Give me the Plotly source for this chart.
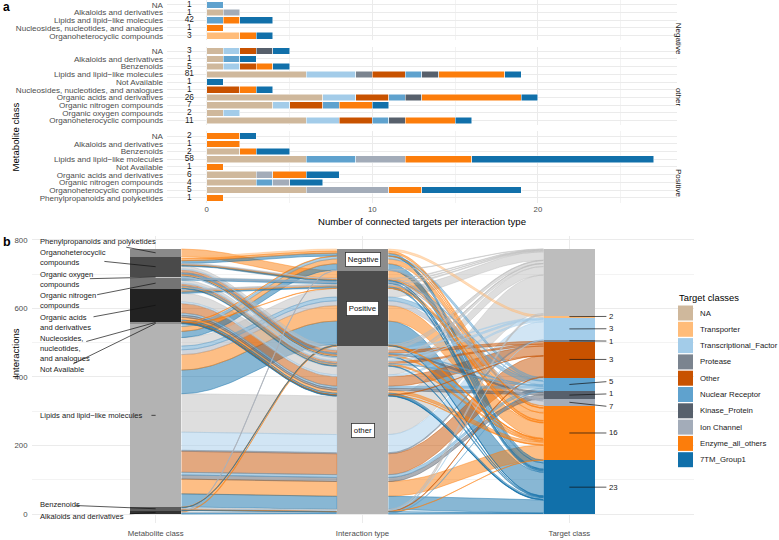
import numpy as np
import plotly.graph_objects as go

W, H = 779, 540

# ================= Panel a data =================
target_classes = ["NA", "Transporter", "Transcriptional_Factor", "Protease", "Other",
                  "Nuclear Receptor", "Kinase_Protein", "Ion Channel",
                  "Enzyme_all_others", "7TM_Group1"]
target_colors = ["#cfb89c", "#ffbc79", "#a3cce9", "#7b848f", "#c85200",
                 "#5fa2ce", "#57606c", "#a3acb9", "#fc7d0b", "#1170aa"]

facet_names = ["Negative", "other", "Positive"]

neg_rows = ["NA", "Alkaloids and derivatives", "Lipids and lipid−like molecules",
            "Nucleosides, nucleotides, and analogues", "Organoheterocyclic compounds"]
neg_counts = [1, 1, 42, 1, 3]
neg_targets = [  # columns follow target_classes
    [0, 0, 0, 0, 0, 1, 0, 0, 0, 0],
    [1, 0, 0, 0, 0, 0, 0, 1, 0, 0],
    [0, 0, 0, 0, 0, 1, 0, 0, 1, 2],
    [0, 0, 0, 0, 0, 0, 0, 0, 1, 0],
    [0, 2, 0, 0, 0, 0, 0, 0, 1, 1],
]

other_rows = ["NA", "Alkaloids and derivatives", "Benzenoids", "Lipids and lipid−like molecules",
              "Not Available", "Nucleosides, nucleotides, and analogues",
              "Organic acids and derivatives", "Organic nitrogen compounds",
              "Organic oxygen compounds", "Organoheterocyclic compounds"]
other_counts = [3, 1, 5, 81, 1, 1, 26, 7, 2, 11]
other_targets = [
    [1, 0, 1, 0, 1, 0, 1, 0, 0, 1],
    [1, 0, 0, 0, 0, 1, 0, 0, 0, 1],
    [1, 0, 1, 0, 1, 0, 0, 0, 1, 1],
    [6, 0, 3, 1, 2, 1, 1, 0, 4, 1],
    [0, 0, 0, 0, 0, 0, 0, 0, 0, 1],
    [0, 0, 0, 0, 2, 0, 0, 0, 1, 1],
    [7, 0, 2, 0, 2, 1, 1, 0, 6, 1],
    [4, 0, 1, 0, 2, 1, 0, 0, 2, 1],
    [1, 0, 1, 0, 0, 0, 0, 0, 0, 0],
    [6, 0, 2, 0, 2, 1, 1, 0, 3, 1],
]

pos_rows = ["NA", "Alkaloids and derivatives", "Benzenoids", "Lipids and lipid−like molecules",
            "Not Available", "Organic acids and derivatives", "Organic nitrogen compounds",
            "Organoheterocyclic compounds", "Phenylpropanoids and polyketides"]
pos_counts = [2, 1, 2, 58, 1, 6, 4, 5, 1]
pos_targets = [
    [0, 0, 0, 0, 0, 0, 0, 0, 2, 1],
    [0, 0, 0, 0, 0, 0, 0, 0, 2, 0],
    [2, 0, 0, 0, 0, 0, 0, 0, 1, 2],
    [6, 0, 0, 0, 0, 3, 0, 3, 4, 11],
    [0, 0, 0, 0, 0, 0, 0, 0, 1, 0],
    [3, 0, 0, 0, 0, 0, 0, 1, 2, 2],
    [3, 0, 0, 0, 0, 1, 0, 1, 0, 2],
    [6, 0, 0, 0, 0, 0, 0, 5, 2, 6],
    [0, 0, 0, 0, 0, 0, 0, 0, 1, 0],
]

# ================= Panel b data =================
metabolite_levels = ["Alk", "Benz", "Lip", "NotAv", "Nuc", "OA", "ON", "OO", "OH", "Phen"]  # bottom -> top
metabolite_labels = ["Alkaloids and derivatives", "Benzenoids", "Lipids and lipid−like molecules",
                     "Not Available", "Nucleosides,<br>nucleotides,<br>and analogues",
                     "Organic acids<br>and derivatives", "Organic nitrogen<br>compounds",
                     "Organic oxygen<br>compounds", "Organoheterocyclic<br>compounds",
                     "Phenylpropanoids and polyketides"]
metabolite_fill = ["#333333", "#5c5c5c", "#b3b3b3", "#6a6a6a", "#8f8f8f",
                   "#222222", "#747474", "#c4c4c4", "#4a4a4a", "#8a8a8a"]
interaction_levels = ["other", "Positive", "Negative"]  # bottom -> top
interaction_fill = ["#b5b5b5", "#4d4d4d", "#8c8c8c"]
target_levels = ["7TM_Group1", "Enzyme_all_others", "Ion Channel", "Kinase_Protein",
                 "Nuclear Receptor", "Other", "Protease", "Transcriptional_Factor",
                 "Transporter", "NA"]  # bottom -> top
target_label_n = ["23", "16", "7", "1", "5", "3", "1", "3", "2", ""]

alluvium_metabolite = [
    "Alk", "Alk", "Lip", "Lip", "Lip", "Nuc", "OH", "OH", "OH",
    "Alk", "Benz", "Benz", "Benz", "Lip", "Lip", "Lip", "Lip", "Lip", "NotAv",
    "OA", "OA", "OA", "OA", "ON", "ON", "ON", "ON", "OH", "OH", "OH", "OH", "Phen",
    "Alk", "Alk", "Alk", "Benz", "Benz", "Benz", "Benz", "Benz",
    "Lip", "Lip", "Lip", "Lip", "Lip", "Lip", "Lip", "Lip", "NotAv", "Nuc", "Nuc", "Nuc",
    "OA", "OA", "OA", "OA", "OA", "OA", "OA",
    "ON", "ON", "ON", "ON", "ON", "ON", "OO", "OO",
    "OH", "OH", "OH", "OH", "OH", "OH", "OH",
]
alluvium_interaction = (["Negative"] * 9 + ["Positive"] * 23 + ["other"] * 43)
alluvium_target = [
    "NA", "Ion Channel", "Nuclear Receptor", "Enzyme_all_others", "7TM_Group1",
    "Enzyme_all_others", "Transporter", "Enzyme_all_others", "7TM_Group1",
    "Enzyme_all_others", "NA", "Enzyme_all_others", "7TM_Group1",
    "NA", "Nuclear Receptor", "Ion Channel", "Enzyme_all_others", "7TM_Group1",
    "Enzyme_all_others",
    "NA", "Ion Channel", "Enzyme_all_others", "7TM_Group1",
    "NA", "Nuclear Receptor", "Ion Channel", "7TM_Group1",
    "NA", "Ion Channel", "Enzyme_all_others", "7TM_Group1", "Enzyme_all_others",
    "NA", "Nuclear Receptor", "7TM_Group1",
    "NA", "Transcriptional_Factor", "Other", "Enzyme_all_others", "7TM_Group1",
    "7TM_Group1", "Enzyme_all_others", "Kinase_Protein", "Nuclear Receptor", "Other",
    "Protease", "Transcriptional_Factor", "NA",
    "7TM_Group1", "Other", "Enzyme_all_others", "7TM_Group1",
    "NA", "Transcriptional_Factor", "Other", "Nuclear Receptor", "Kinase_Protein",
    "Enzyme_all_others", "7TM_Group1",
    "NA", "Transcriptional_Factor", "Other", "Nuclear Receptor", "Enzyme_all_others", "7TM_Group1",
    "NA", "Transcriptional_Factor",
    "NA", "Transcriptional_Factor", "Other", "Nuclear Receptor", "Kinase_Protein",
    "Enzyme_all_others", "7TM_Group1",
]
alluvium_count = [
    1, 1, 8, 14, 18, 1, 6, 6, 8,
    2, 1, 1, 1, 25, 11, 14, 45, 69, 1,
    3, 2, 4, 4, 2, 2, 1, 3, 2, 2, 2, 2, 22,
    3, 1, 2, 3, 1, 2, 1, 1,
    38, 43, 12, 8, 61, 3, 53, 112, 1, 1, 1, 1,
    25, 5, 28, 6, 6, 8, 5,
    8, 3, 6, 2, 4, 2, 1, 1,
    8, 3, 8, 2, 4, 4, 2,
]


def rgba(h, a):
    h = h.lstrip("#")
    return "rgba(%d,%d,%d,%.3f)" % (int(h[0:2], 16), int(h[2:4], 16), int(h[4:6], 16), a)


FONT = "Liberation Sans, Arial, sans-serif"
fig = go.Figure()

# ---------------- panel a geometry (pixels) ----------------
ROW_PX = 7.72
GAP_PX = 6.2
facets = [(neg_rows, neg_counts, neg_targets), (other_rows, other_counts, other_targets),
          (pos_rows, pos_counts, pos_targets)]
top = 0.2
facet_dom = []
for rows, _, _ in facets:
    h = (len(rows) + 0.2) * ROW_PX
    facet_dom.append((top, top + h))
    top += h + GAP_PX

XA_RANGE = [-2.4, 28.42]
XA_PX = (167.0, 677.3)

for f, (rows, counts, targets) in enumerate(facets):
    ax = "" if f == 0 else str(f + 1)
    for j, cls in enumerate(target_classes):
        vals = [r[j] if r[j] > 0 else None for r in targets]
        if all(v is None for v in vals):
            continue
        fig.add_trace(go.Bar(orientation="h", y=list(range(len(rows))), x=vals,
                             marker=dict(color=target_colors[j], line=dict(color="white", width=0.5)),
                             width=0.86, xaxis="x" + ax, yaxis="y" + ax, showlegend=False,
                             hoverinfo="skip"))
    fig.add_trace(go.Scatter(mode="text", x=[-1.05] * len(rows), y=list(range(len(rows))),
                             text=[str(c) for c in counts],
                             textfont=dict(size=8.3, color="#1a1a1a", family=FONT),
                             xaxis="x" + ax, yaxis="y" + ax, showlegend=False, hoverinfo="skip"))

# ---------------- panel b computations ----------------
N = len(alluvium_count)
w = np.array(alluvium_count, dtype=float)
idx = [(metabolite_levels.index(alluvium_metabolite[k]),
        interaction_levels.index(alluvium_interaction[k]),
        target_levels.index(alluvium_target[k])) for k in range(N)]
priority = [(0, 1, 2), (1, 0, 2), (2, 1, 0)]
lodes = []
for a in range(3):
    order = sorted(range(N), key=lambda k: tuple(idx[k][p] for p in priority[a]))
    y = 0.0
    lo = [None] * N
    for k in order:
        lo[k] = (y, y + w[k])
        y += w[k]
    lodes.append(lo)

tclr = {c: col for c, col in zip(target_classes, target_colors)}
tclr["NA"] = "#bdbdbd"
target_fill = [tclr[t] for t in target_levels]

SW = 0.25
tt = np.linspace(0, 1, 40)
ss = (1 - np.cos(np.pi * tt)) / 2
for a in (0, 1):
    x0, x1 = a + 1 + SW / 2, a + 2 - SW / 2
    xs = x0 + (x1 - x0) * tt
    for k in sorted(range(N), key=lambda k: -w[k]):
        ya0, ya1 = lodes[a][k]
        yb0, yb1 = lodes[a + 1][k]
        topc = ya1 + (yb1 - ya1) * ss
        botc = ya0 + (yb0 - ya0) * ss
        col = tclr[alluvium_target[k]]
        fig.add_trace(go.Scatter(x=np.concatenate([xs, xs[::-1]]),
                                 y=np.concatenate([topc, botc[::-1]]),
                                 fill="toself", fillcolor=rgba(col, 0.5), mode="lines",
                                 line=dict(color=rgba(col, 0.75), width=0.6),
                                 xaxis="x4", yaxis="y4", showlegend=False, hoverinfo="skip"))

axis_levels = [metabolite_levels, interaction_levels, target_levels]
axis_fills = [metabolite_fill, interaction_fill, target_fill]
strata_bounds = []
for a in range(3):
    tot = np.array([sum(w[k] for k in range(N) if idx[k][a] == l) for l in range(len(axis_levels[a]))])
    base = np.cumsum(tot) - tot
    strata_bounds.append((base, tot))
    keep = tot > 0
    fig.add_trace(go.Bar(x=[a + 1] * int(keep.sum()), y=tot[keep], base=base[keep], width=SW,
                         marker=dict(color=[c for c, kk in zip(axis_fills[a], keep) if kk],
                                     line=dict(width=0)),
                         xaxis="x4", yaxis="y4", showlegend=False, hoverinfo="skip"))

# pixel mapping for panel b
XB_RANGE = [0.4, 3.6]
XB_PX = (31.5, 693.5)
YB_RANGE = [-26, 811]
YB_PX = (236.0, 523.0)
ppx = (XB_PX[1] - XB_PX[0]) / (XB_RANGE[1] - XB_RANGE[0])
ppy = (YB_PX[1] - YB_PX[0]) / (YB_RANGE[1] - YB_RANGE[0])


def bx(xd):
    return XB_PX[0] + (xd - XB_RANGE[0]) * ppx


def by(yd):
    return YB_PX[1] - (yd - YB_RANGE[0]) * ppy


def ibx(px):
    return XB_RANGE[0] + (px - XB_PX[0]) / ppx


def iby(py):
    return YB_RANGE[0] + (YB_PX[1] - py) / ppy


def repel(centers, heights, gap, lo, hi):
    """1-D label repel (isotonic least squares) kept inside [lo, hi] pixels."""
    centers = np.asarray(centers, float)
    heights = np.asarray(heights, float)
    order = np.argsort(centers)
    c = centers[order]
    h = heights[order]
    offs = [0.0]
    for k in range(1, len(c)):
        offs.append(offs[-1] + (h[k - 1] + h[k]) / 2 + gap)
    offs = np.array(offs)
    z = c - offs
    blocks = []
    for v in z:
        blocks.append([v, 1])
        while len(blocks) > 1 and blocks[-2][0] > blocks[-1][0]:
            v2, n2 = blocks.pop()
            v1, n1 = blocks.pop()
            blocks.append([(v1 * n1 + v2 * n2) / (n1 + n2), n1 + n2])
    q = []
    for v, n in blocks:
        q += [v] * n
    q = np.array(q)
    q = np.maximum(q, lo + h[0] / 2)
    q = np.minimum(q, hi - h[-1] / 2 - offs[-1])
    p = q + offs
    out = np.empty_like(p)
    out[order] = p
    return out


annotations = []
LINE_PX = 9.7
CHAR_PX = 3.62

# metabolite labels
mb, mt = strata_bounds[0]
mcent_px = [by(b + t / 2) for b, t in zip(mb, mt)]
m_lines = [lab.split("<br>") for lab in metabolite_labels]
m_h = [len(l) * LINE_PX for l in m_lines]
m_pos = repel(mcent_px, m_h, 2.0, YB_PX[0] + 0.5, YB_PX[1] + 1)
lab_left_px = bx(0.43)
for i, lab in enumerate(metabolite_labels):
    annotations.append(dict(x=ibx(lab_left_px), y=iby(m_pos[i]), xref="x4", yref="y4", text=lab,
                            showarrow=False, xanchor="left", yanchor="middle", align="left",
                            font=dict(size=7.6, color="#1a1a1a", family=FONT)))
    wpx = max(len(s) for s in m_lines[i]) * CHAR_PX
    cx, cy = lab_left_px + wpx / 2, m_pos[i]
    tx, ty = bx(1.0), mcent_px[i]
    dx, dy = tx - cx, ty - cy
    tx_ = (wpx / 2 + 1.5) / abs(dx) if dx != 0 else np.inf
    ty_ = (m_h[i] / 2 + 1.0) / abs(dy) if dy != 0 else np.inf
    te = min(tx_, ty_)
    if te < 1:
        sx, sy = cx + te * dx, cy + te * dy
        fig.add_trace(go.Scatter(x=[ibx(sx), ibx(tx)], y=[iby(sy), iby(ty)], mode="lines",
                                 line=dict(color="#111111", width=0.7), xaxis="x4", yaxis="y4",
                                 showlegend=False, hoverinfo="skip", cliponaxis=False))

# target labels
tb, tt_ = strata_bounds[2]
t_items = [i for i, s in enumerate(target_label_n) if s]
t_cent_px = [by(tb[i] + tt_[i] / 2) for i in t_items]
t_pos = repel(t_cent_px, [LINE_PX] * len(t_items), 2.6, YB_PX[0], YB_PX[1])
for n_, i in enumerate(t_items):
    fig.add_trace(go.Scatter(x=[3.0, ibx(bx(3.0) + 37)], y=[iby(t_cent_px[n_]), iby(t_pos[n_])],
                             mode="lines", line=dict(color="#111111", width=0.7),
                             xaxis="x4", yaxis="y4", showlegend=False, hoverinfo="skip"))
    annotations.append(dict(x=ibx(bx(3.0) + 38), y=iby(t_pos[n_]), xref="x4", yref="y4",
                            text=target_label_n[i], showarrow=False, xanchor="left",
                            yanchor="middle", font=dict(size=7.8, color="#1a1a1a", family=FONT)))

# interaction labels
ib_, it_ = strata_bounds[1]
for i, lev in enumerate(interaction_levels):
    annotations.append(dict(x=2, y=ib_[i] + it_[i] / 2, xref="x4", yref="y4", text=lev,
                            showarrow=False, bgcolor="white", bordercolor="#333333",
                            borderwidth=0.8, borderpad=2,
                            font=dict(size=7.8, color="#111111", family=FONT)))


def pxx(p):
    return p / W


def pxy(p):
    return 1 - p / H


# facet strip labels
for f, name in enumerate(facet_names):
    d0, d1 = facet_dom[f]
    annotations.append(dict(x=pxx(685), y=pxy((d0 + d1) / 2), xref="paper", yref="paper",
                            text=name, textangle=90, showarrow=False,
                            font=dict(size=8, color="#1a1a1a", family=FONT)))

# titles / tags
annotations += [
    dict(x=pxx(1), y=pxy(7.5), xref="paper", yref="paper", text="<b>a</b>", showarrow=False,
         xanchor="left", yanchor="middle", font=dict(size=12, color="black", family=FONT)),
    dict(x=pxx(1), y=pxy(242), xref="paper", yref="paper", text="<b>b</b>", showarrow=False,
         xanchor="left", yanchor="middle", font=dict(size=12.5, color="black", family=FONT)),
    dict(x=pxx(7.5), y=pxy(101), xref="paper", yref="paper", text="Metabolite class",
         textangle=-90, showarrow=False, font=dict(size=9.6, color="black", family=FONT)),
    dict(x=pxx(422), y=pxy(221.5), xref="paper", yref="paper",
         text="Number of connected targets per interaction type", showarrow=False,
         font=dict(size=9.6, color="black", family=FONT)),
    dict(x=pxx(7.5), y=pxy(380), xref="paper", yref="paper", text="Interactions",
         textangle=-90, showarrow=False, font=dict(size=9.6, color="black", family=FONT)),
    dict(x=pxx(677), y=pxy(297), xref="paper", yref="paper", text="Target classes",
         showarrow=False, xanchor="left", yanchor="middle",
         font=dict(size=9.4, color="black", family=FONT)),
]

# legend (manual)
shapes = []
LEG_Y0 = 313.0
LEG_STEP = 16.3
for j, cls in enumerate(target_classes):
    cy = LEG_Y0 + j * LEG_STEP
    shapes.append(dict(type="rect", xref="paper", yref="paper", x0=pxx(678), x1=pxx(693),
                       y0=pxy(cy - 7.5), y1=pxy(cy + 7.5), fillcolor=target_colors[j],
                       line=dict(width=0), layer="above"))
    annotations.append(dict(x=pxx(698), y=pxy(cy), xref="paper", yref="paper", text=cls,
                            showarrow=False, xanchor="left", yanchor="middle",
                            font=dict(size=7.8, color="#1a1a1a", family=FONT)))

layout = dict(
    width=W, height=H, margin=dict(l=0, r=0, t=0, b=0),
    paper_bgcolor="white", plot_bgcolor="white", barmode="stack", showlegend=False,
    font=dict(family=FONT, color="#4d4d4d"),
    annotations=annotations, shapes=shapes,
)
GRID = "#ebebeb"
for f, (rows, _, _) in enumerate(facets):
    ax = "" if f == 0 else str(f + 1)
    d0, d1 = facet_dom[f]
    n = len(rows)
    layout["xaxis" + ax] = dict(domain=[pxx(XA_PX[0]), pxx(XA_PX[1])], range=XA_RANGE,
                                anchor="y" + ax, tickmode="array", tickvals=[0, 10, 20],
                                showticklabels=(f == 2), showgrid=True, gridcolor=GRID,
                                gridwidth=1, zeroline=False, showline=False, ticks="",
                                tickfont=dict(size=7.8, color="#4d4d4d", family=FONT),
                                ticklabelstandoff=1,
                                minor=dict(tickmode="array", tickvals=[5, 15, 25], showgrid=True,
                                           gridcolor="#f3f3f3", gridwidth=1))
    layout["yaxis" + ax] = dict(domain=[pxy(d1), pxy(d0)], range=[n - 0.4, -0.6],
                                anchor="x" + ax, tickmode="array", tickvals=list(range(n)),
                                ticktext=rows, showgrid=True, gridcolor=GRID, gridwidth=1,
                                zeroline=False, showline=False, ticks="",
                                tickfont=dict(size=8.1, color="#4d4d4d", family=FONT),
                                ticklabelstandoff=3)

layout["xaxis4"] = dict(domain=[pxx(XB_PX[0]), pxx(XB_PX[1])], range=XB_RANGE, anchor="y4",
                        tickmode="array", tickvals=[1, 2, 3],
                        ticktext=["Metabolite class", "Interaction type", "Target class"],
                        showgrid=True, gridcolor=GRID, zeroline=False, showline=False, ticks="",
                        tickfont=dict(size=7.8, color="#4d4d4d", family=FONT),
                        ticklabelstandoff=4)
layout["yaxis4"] = dict(domain=[pxy(YB_PX[1]), pxy(YB_PX[0])], range=YB_RANGE, anchor="x4",
                        tickmode="array", tickvals=[0, 200, 400, 600, 800],
                        showgrid=True, gridcolor=GRID, zeroline=False, showline=False, ticks="",
                        tickfont=dict(size=7.8, color="#4d4d4d", family=FONT),
                        ticklabelstandoff=3,
                        minor=dict(tickmode="array", tickvals=[100, 300, 500, 700], showgrid=True,
                                   gridcolor="#f3f3f3", gridwidth=1))

fig.update_layout(**layout)
fig.write_html("out.html", include_plotlyjs=True, config={"displayModeBar": False},
               post_script="document.body.style.margin='0';document.body.style.overflow='hidden';")
